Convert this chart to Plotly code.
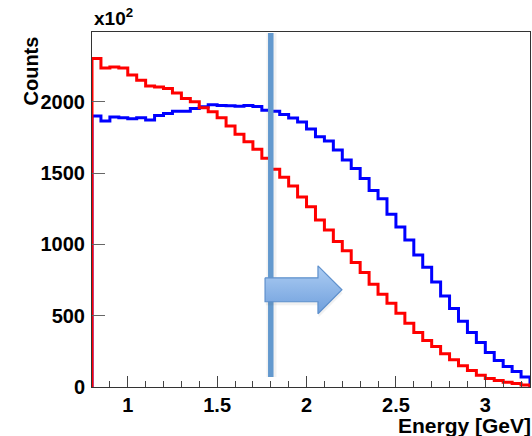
import numpy as np
import plotly.graph_objects as go

# Energy binning: 49 bins of 0.05 GeV from 0.8 to 3.25 GeV
bin_lo = 0.8
bin_width = 0.05
n_bins = 49

# Bin contents (in units of 10^2 counts)
counts_red = [2304, 2238, 2245, 2238, 2189, 2152, 2112, 2105, 2094, 2063,
              2024, 2000, 1958, 1930, 1888, 1830, 1772, 1720, 1667, 1604,
              1527, 1471, 1410, 1333, 1265, 1172, 1102, 1020, 955, 873,
              803, 721, 651, 588, 518, 448, 382, 326, 284, 233,
              191, 149, 116, 82, 60, 45, 33, 24, 14]
counts_blue = [1900, 1865, 1893, 1888, 1881, 1888, 1872, 1905, 1919, 1935,
               1935, 1954, 1965, 1979, 1975, 1972, 1970, 1975, 1968, 1942,
               1935, 1912, 1886, 1858, 1809, 1755, 1725, 1662, 1592, 1533,
               1463, 1378, 1320, 1212, 1123, 1031, 926, 840, 737, 639,
               550, 462, 382, 312, 242, 186, 144, 109, 70]

# Energy cut and the "keep above" arrow (annotation geometry, in axis units)
energy_cut = 1.8
cut_line_span = (70, 2483)
arrow_x = (1.768, 2.064, 2.198)          # tail, head base, tip
arrow_shaft_y = (598, 766)
arrow_head_y = (514, 850)

x_range = [0.8, 3.25]
y_range = [0, 2490]
y_tickvals = [0, 500, 1000, 1500, 2000]

edges = bin_lo + bin_width * np.arange(n_bins + 1)


def step_xy(values):
    """Outline of a histogram: rise from zero, steps, drop back to zero."""
    v = list(values)
    xs = [edges[0]] + list(edges[:-1]) + [edges[-1], edges[-1]]
    ys = [0] + v + [v[-1], 0]
    return xs, ys


fig = go.Figure()

for vals, col in ((counts_blue, "#0000FF"), (counts_red, "#FF0000")):
    xs, ys = step_xy(vals)
    fig.add_trace(go.Scatter(x=xs, y=ys, mode="lines", line_shape="hv",
                             line=dict(color=col, width=3),
                             showlegend=False, hoverinfo="skip"))

# cut line with a faint shadow
fig.add_trace(go.Scatter(x=[energy_cut + 0.004] * 2, y=list(cut_line_span), mode="lines",
                         line=dict(color="rgba(90,90,90,0.08)", width=10),
                         showlegend=False, hoverinfo="skip"))
fig.add_trace(go.Scatter(x=[energy_cut] * 2, y=list(cut_line_span), mode="lines",
                         line=dict(color="#6399CE", width=5.5),
                         showlegend=False, hoverinfo="skip"))

# block arrow
ax0, ax1, ax2 = arrow_x
sy0, sy1 = arrow_shaft_y
hy0, hy1 = arrow_head_y
ymid = 0.5 * (sy0 + sy1)
arr_x = [ax0, ax1, ax1, ax2, ax1, ax1, ax0, ax0]
arr_y = [sy1, sy1, hy1, ymid, hy0, sy0, sy0, sy1]
fig.add_trace(go.Scatter(x=[v + 0.004 for v in arr_x], y=[v - 25 for v in arr_y],
                         mode="lines", fill="toself",
                         fillcolor="rgba(80,80,80,0.08)", line=dict(width=0),
                         showlegend=False, hoverinfo="skip"))
fig.add_trace(go.Scatter(x=arr_x, y=arr_y, mode="lines", fill="toself",
                         fillgradient=dict(type="vertical",
                                           colorscale=[[0, "#6F9FDC"], [1, "#ADCDF3"]]),
                         line=dict(color="#5E90CC", width=1.2),
                         showlegend=False, hoverinfo="skip"))

tick_font = dict(family="Liberation Sans", size=20, color="black", weight="bold")

fig.update_layout(
    width=532, height=436,
    margin=dict(l=92, r=2, t=32, b=49),
    paper_bgcolor="white", plot_bgcolor="white",
    xaxis=dict(range=x_range, showgrid=False, zeroline=False,
               ticks="inside", ticklen=11, tickcolor="#444", tickwidth=1,
               tickvals=[1, 1.5, 2, 2.5, 3], ticktext=["1", "1.5", "2", "2.5", "3"],
               minor=dict(dtick=0.1, tick0=0, ticks="inside", ticklen=6,
                          tickcolor="#444", tickwidth=1),
               showline=True, linecolor="#333", linewidth=1, mirror=True,
               tickfont=tick_font, ticklabelstandoff=0),
    yaxis=dict(range=y_range, showgrid=False, zeroline=False,
               ticks="inside", ticklen=13, tickcolor="#666", tickwidth=1,
               tickvals=y_tickvals,
               showline=True, linecolor="#333", linewidth=1, mirror=True,
               tickfont=tick_font, ticklabelstandoff=2),
)

fig.add_annotation(text="<b>Counts</b>", textangle=-90, xref="paper", yref="paper",
                   x=(31 - 92) / 438, y=(387.3 - 35) / 355.3,
                   xanchor="center", yanchor="top", showarrow=False,
                   font=dict(family="Liberation Sans", size=20, color="black"))
fig.add_annotation(text="<b>Energy [GeV]</b>", xref="paper", yref="paper",
                   x=(533 - 92) / 438, y=(387.3 - 425.5) / 355.3,
                   xanchor="right", yanchor="middle", showarrow=False,
                   font=dict(family="Liberation Sans", size=21, color="black"))
fig.add_annotation(text="<b>x10<sup>2</sup></b>", xref="paper", yref="paper",
                   x=0, y=(387.3 - 31) / 355.3,
                   xanchor="left", yanchor="bottom", showarrow=False,
                   font=dict(family="Liberation Sans", size=19, color="black"))

fig.write_html("out.html")
